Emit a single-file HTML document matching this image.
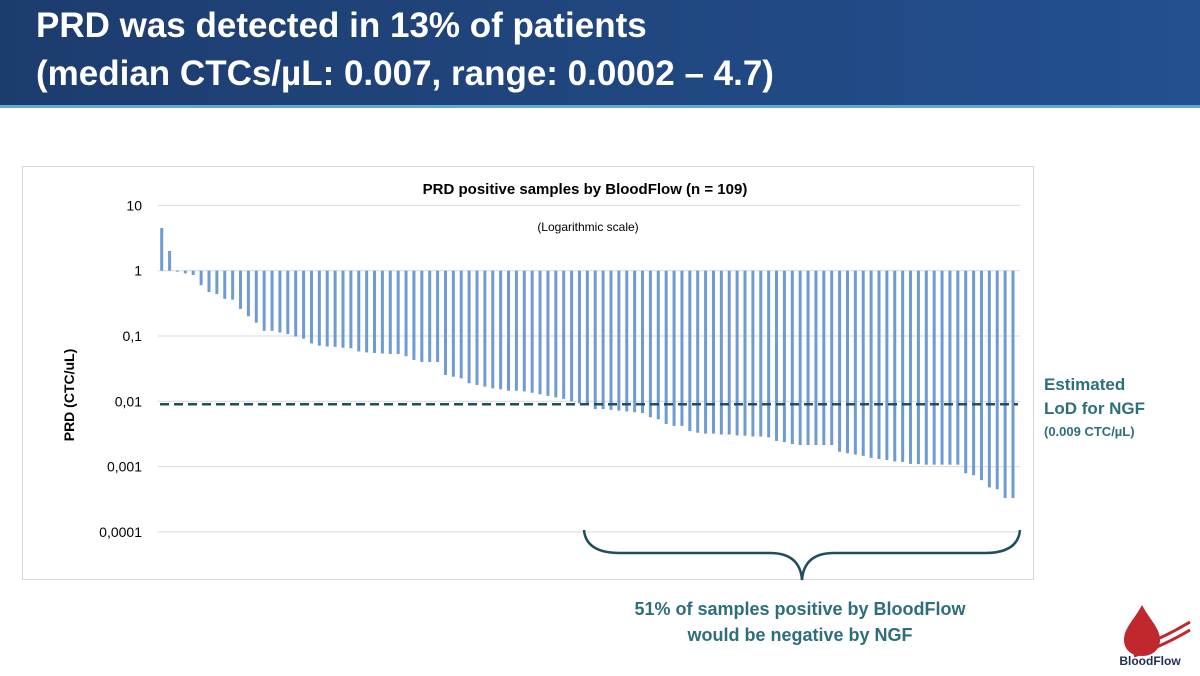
<!DOCTYPE html>
<html><head><meta charset="utf-8"><style>
body{margin:0;width:1200px;height:671px;overflow:hidden;background:#fff;font-family:"Liberation Sans",Arial,sans-serif;}
</style></head><body>
<svg width="1200" height="671" viewBox="0 0 1200 671" xmlns="http://www.w3.org/2000/svg">
<defs><linearGradient id="hg" x1="0" x2="1" y1="0" y2="0"><stop offset="0" stop-color="#1d3c6e"/><stop offset="1" stop-color="#23508f"/></linearGradient></defs>
<rect x="0" y="0" width="1200" height="105" fill="url(#hg)"/>
<rect x="0" y="105" width="1200" height="3" fill="#5fa8d8"/>
<text x="36" y="37" font-size="35" font-weight="bold" fill="#fff">PRD was detected in 13% of patients</text>
<text x="36" y="85" font-size="35" font-weight="bold" fill="#fff">(median CTCs/µL: 0.007, range: 0.0002 – 4.7)</text>
<rect x="22.5" y="166.5" width="1011" height="413" fill="#fff" stroke="#d9d9d9"/>
<text x="585" y="194" font-size="15" font-weight="bold" text-anchor="middle" fill="#000">PRD positive samples by BloodFlow (n = 109)</text>
<text x="588" y="231" font-size="12" text-anchor="middle" fill="#000">(Logarithmic scale)</text>
<text transform="translate(74,395) rotate(-90)" font-size="14" font-weight="bold" text-anchor="middle">PRD (CTC/uL)</text>
<g id="grid"></g><g id="bars"></g>
<line x1="160" x2="1018" id="lod" stroke="#1f4e5f" stroke-width="2.5" stroke-dasharray="9,5"/>
<path d="M584 530 Q586 553 620 553 L770 553 Q800 553 802 580 Q804 553 834 553 L985 553 Q1018 553 1020 530" fill="none" stroke="#1f4e5f" stroke-width="2.5"/>
<text x="1044" y="390" font-size="17" font-weight="bold" fill="#2e6e7c">Estimated</text>
<text x="1044" y="414" font-size="17" font-weight="bold" fill="#2e6e7c">LoD for NGF</text>
<text x="1044" y="436" font-size="13" font-weight="bold" fill="#2e6e7c">(0.009 CTC/µL)</text>
<text x="800" y="615" font-size="18" font-weight="bold" text-anchor="middle" fill="#2e6e7c">51% of samples positive by BloodFlow</text>
<text x="800" y="641" font-size="18" font-weight="bold" text-anchor="middle" fill="#2e6e7c">would be negative by NGF</text>
<g>
<path d="M1142 605 C1134 620 1124 628 1124 640 C1124 650 1132 656 1142 656 C1152 656 1160 650 1160 640 C1160 628 1150 620 1142 605Z" fill="#c0282d"/>
<path d="M1130 650 Q1160 640 1190 622 M1134 656 Q1165 645 1190 630" stroke="#c0282d" stroke-width="3" fill="none"/>
<text x="1150" y="665" font-size="12" font-weight="bold" text-anchor="middle" fill="#1e2f55">BloodFlow</text>
</g>
</svg>
<script>
const values=[4.5,2.0,0.97,0.91,0.86,0.6,0.47,0.44,0.37,0.36,0.26,0.2,0.16,0.12,0.12,0.113,0.107,0.098,0.091,0.077,0.071,0.069,0.068,0.066,0.065,0.058,0.056,0.055,0.054,0.053,0.053,0.049,0.043,0.040,0.040,0.040,
0.0253,0.0238,0.0225,0.0189,0.0178,0.0168,0.0158,0.0153,0.0145,0.0145,0.0142,0.0135,0.0128,0.0121,0.0115,0.0109,0.0100,0.0093,0.0091,0.0076,0.0076,0.0074,0.0072,0.0070,0.0068,0.0066,0.0057,0.0053,0.0045,0.0042,0.0042,0.0035,0.0033,0.0032,0.0032,0.0031,0.0031,0.0030,
0.00297,0.00289,0.00289,0.00281,0.00247,0.00237,0.00221,0.00214,0.00214,0.00214,0.00214,0.00214,0.00169,0.00160,0.00153,0.00146,0.00136,0.00131,0.00126,0.00120,0.00118,0.00110,0.00109,0.00107,0.00107,0.00107,0.00107,0.00107,0.00079,0.00074,0.00062,0.00048,0.00045,0.00033,0.00033];
const tickValues=[10,1,0.1,0.01,0.001,0.0001];
const tickLabels=["10","1","0,1","0,01","0,001","0,0001"];
const lodValue=0.009;
const NS="http://www.w3.org/2000/svg";
function y(v){return 270.7-65.3*Math.log10(v);}
function x(i){return 161.7+i*(1013-161.7)/(values.length-1);}
const grid=document.getElementById('grid');
tickValues.forEach((t,k)=>{
 const l=document.createElementNS(NS,'line');
 l.setAttribute('x1',158);l.setAttribute('x2',1020);l.setAttribute('y1',y(t));l.setAttribute('y2',y(t));
 l.setAttribute('stroke','#d9d9d9');l.setAttribute('stroke-width',1);
 
 
 grid.appendChild(l);
 const tx=document.createElementNS(NS,'text');
 tx.setAttribute('x',142);tx.setAttribute('y',y(t)+5);tx.setAttribute('text-anchor','end');tx.setAttribute('font-size','14');
 tx.textContent=tickLabels[k];
 
 
 grid.appendChild(tx);
});
const bars=document.getElementById('bars');
values.forEach((v,i)=>{
 const r=document.createElementNS(NS,'rect');
 const y0=y(1),y1=y(v);
 r.setAttribute('x',x(i)-1.5);r.setAttribute('width',3);
 r.setAttribute('y',Math.min(y0,y1));r.setAttribute('height',Math.max(1,Math.abs(y1-y0)));
 r.setAttribute('fill','#6f9bd3');
 
 
 bars.appendChild(r);
});
const lod=document.getElementById('lod');
lod.setAttribute('y1',y(lodValue));lod.setAttribute('y2',y(lodValue));
</script>
</body></html>
